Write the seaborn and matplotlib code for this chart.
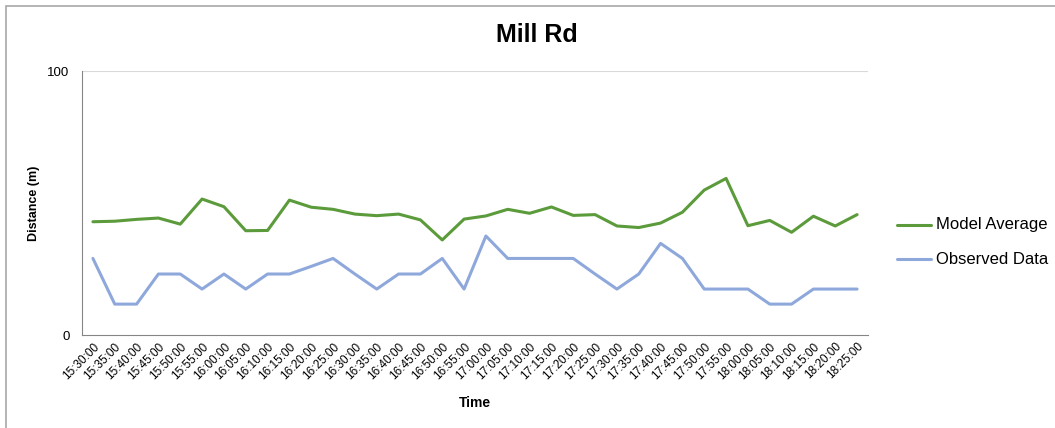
import matplotlib
matplotlib.use("Agg")
import matplotlib.pyplot as plt
import seaborn as sns
import pandas as pd
import numpy as np
from matplotlib.patches import Rectangle

times = ["15:30:00", "15:35:00", "15:40:00", "15:45:00", "15:50:00", "15:55:00",
         "16:00:00", "16:05:00", "16:10:00", "16:15:00", "16:20:00", "16:25:00",
         "16:30:00", "16:35:00", "16:40:00", "16:45:00", "16:50:00", "16:55:00",
         "17:00:00", "17:05:00", "17:10:00", "17:15:00", "17:20:00", "17:25:00",
         "17:30:00", "17:35:00", "17:40:00", "17:45:00", "17:50:00", "17:55:00",
         "18:00:00", "18:05:00", "18:10:00", "18:15:00", "18:20:00", "18:25:00"]

model_avg = [42.9, 43.1, 43.8, 44.3, 42.0, 51.5, 48.6, 39.5, 39.6, 51.1, 48.4, 47.6,
             45.8, 45.2, 45.8, 43.6, 36.0, 43.9, 45.1, 47.6, 46.1, 48.5, 45.3, 45.6,
             41.3, 40.7, 42.4, 46.5, 54.9, 59.3, 41.4, 43.4, 38.9, 45.0, 41.3, 45.6]

observed = [29.0, 11.7, 11.7, 23.1, 23.1, 17.4, 23.1, 17.4, 23.1, 23.1, 26.0, 29.0,
            23.1, 17.4, 23.1, 23.1, 29.0, 17.4, 37.5, 29.0, 29.0, 29.0, 29.0, 23.1,
            17.4, 23.1, 34.7, 29.0, 17.4, 17.4, 17.4, 11.7, 11.7, 17.4, 17.4, 17.4]

df = pd.DataFrame({"Time": times, "Model Average": model_avg, "Observed Data": observed})
long = df.melt(id_vars="Time", var_name="series", value_name="Distance")
long["pos"] = long["Time"].map({t: i for i, t in enumerate(times)})

sns.set_style("white")
plt.rcParams["font.family"] = ["Liberation Sans", "DejaVu Sans"]
plt.rcParams["text.color"] = "black"
plt.rcParams["axes.labelcolor"] = "black"
plt.rcParams["xtick.color"] = "black"
plt.rcParams["ytick.color"] = "black"

fig = plt.figure(figsize=(10.55, 4.28), dpi=100)
ax = fig.add_axes([82 / 1055, 1 - 335 / 428, 786 / 1055, 264 / 428])

palette = {"Model Average": "#5C9B3B", "Observed Data": "#8FA8DC"}
sns.lineplot(data=long, x="pos", y="Distance", hue="series", palette=palette,
             linewidth=2.2, ax=ax, legend=False)

ax.set_xlim(-0.5, len(times) - 0.5)
ax.set_ylim(0, 100)
ax.set_yticks([0, 100])
ax.set_yticklabels(["0", "100"], fontsize=9.5)
ax.axhline(100, color="#D9D9D9", linewidth=0.8, zorder=0)

ax.set_xticks(np.arange(len(times)))
ax.set_xticklabels(times, rotation=45, ha="right", rotation_mode="anchor", fontsize=8.5)
ax.set_xticks(np.arange(len(times) + 1) - 0.5, minor=True)
ax.tick_params(axis="x", which="major", length=0, pad=4, colors="black")
ax.tick_params(axis="x", which="minor", length=4, color="#868686", width=0.8, direction="out")
ax.tick_params(axis="y", length=5, color="#868686", labelcolor="black", width=0.8,
               direction="out", pad=4)

for side in ["top", "right"]:
    ax.spines[side].set_visible(False)
for side in ["left", "bottom"]:
    ax.spines[side].set_color("#868686")
    ax.spines[side].set_linewidth(0.8)

ax.set_xlabel("Time", fontsize=10, fontweight="bold", labelpad=10)
ax.set_ylabel("Distance (m)", fontsize=9, fontweight="bold", labelpad=5)
fig.text(537 / 1055, 1 - 35 / 428, "Mill Rd", fontsize=18, fontweight="bold",
         ha="center", va="center")

# legend on the right
for label, ypix in [("Model Average", 225), ("Observed Data", 259)]:
    yf = 1 - ypix / 428
    fig.add_artist(plt.Line2D([897 / 1055, 931 / 1055], [yf, yf], color=palette[label],
                              linewidth=2.2, transform=fig.transFigure))
    fig.text(936 / 1055, yf, label, fontsize=12, va="center", ha="left")

# chart border
fig.add_artist(Rectangle((6 / 1055, -0.01), 1.1, 1 - 6 / 428 + 0.01, transform=fig.transFigure,
                         fill=False, edgecolor="#A8A8A8", linewidth=1.2))

fig.savefig("out.png", dpi=100)
